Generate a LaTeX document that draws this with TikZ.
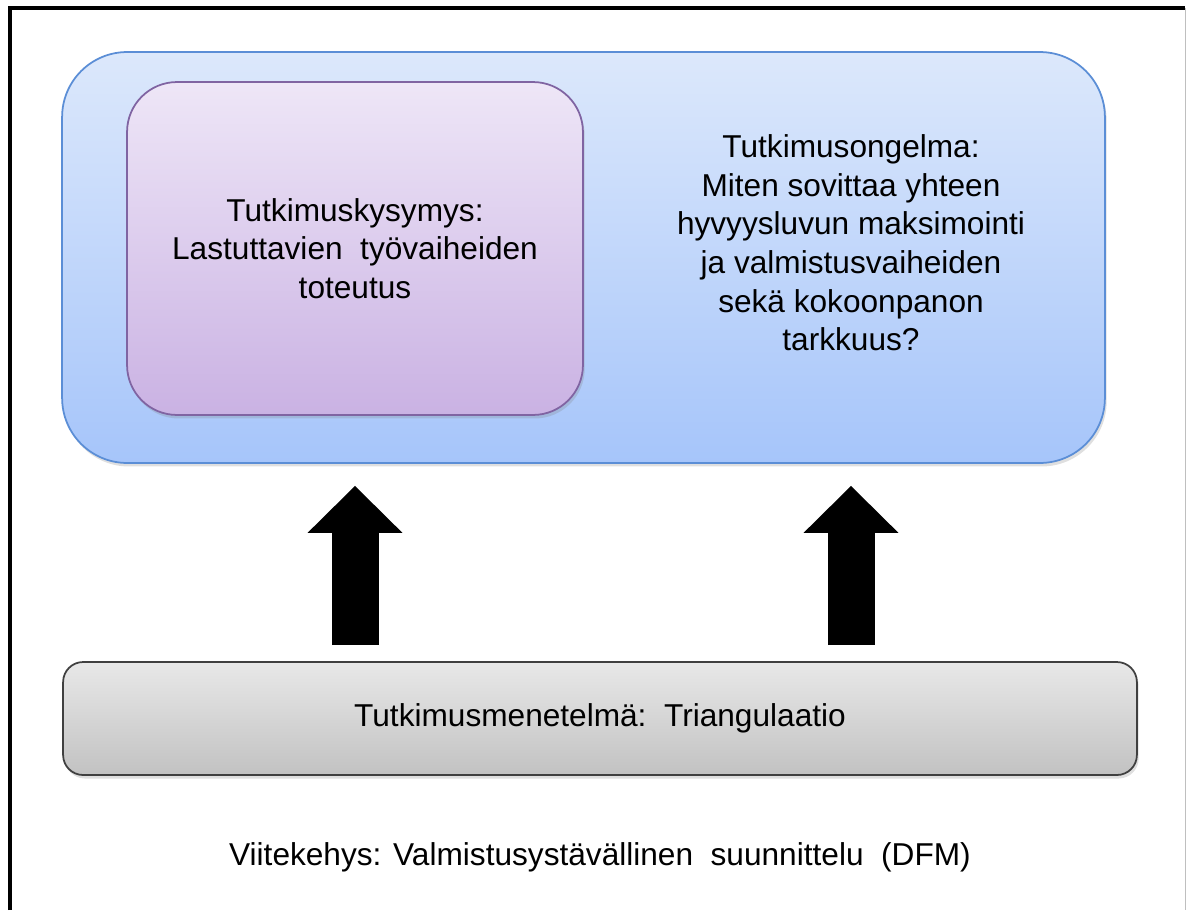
\documentclass[tikz,border=0pt]{standalone}
\usepackage{fontspec}
\setmainfont{Liberation Sans}
\usetikzlibrary{arrows.meta,shadows}
\definecolor{blueTop}{HTML}{DCE8FB}
\definecolor{blueBot}{HTML}{A6C5FA}
\definecolor{blueLine}{HTML}{5B8ED6}
\definecolor{lilaTop}{HTML}{EEE6F7}
\definecolor{lilaBot}{HTML}{CAB2E3}
\definecolor{lilaLine}{HTML}{8064A2}
\definecolor{greyTop}{HTML}{E8E8E8}
\definecolor{greyBot}{HTML}{C2C2C2}
\begin{document}
\begin{tikzpicture}[x=0.02cm,y=-0.02cm]
	\tikzset{box/.style={draw=#1,rectangle,line width=1pt,align=center,font=\fontsize{18}{22}\selectfont,drop shadow={opacity=0.25,shadow xshift=1pt,shadow yshift=-2pt}}}
	\tikzset{big arrow/.style={line width=0.94cm,-{Triangle[length=0.94cm,width=1.84cm]},shorten >=0.44cm,shorten <=0.32cm}}
	\useasboundingbox (0,0) rectangle (1186,910);
	\draw[line width=1.8pt] (10,910) -- (10,8) -- (1185,8);
	\draw[gray!50] (1185,8) -- (1185,910);
	\node [box=blueLine,top color=blueTop,bottom color=blueBot,rounded corners=1.3cm,minimum width=20.86cm,minimum height=8.22cm] (blue) at (583.5,257.5) {};
	\node [box=lilaLine,top color=lilaTop,bottom color=lilaBot,rounded corners=1cm,minimum width=9.12cm,minimum height=6.66cm] (purple) at (355,248.5) {Tutkimuskysymys:\\Lastuttavien\ \ työvaiheiden\\toteutus};
	\node [align=center,font=\fontsize{18}{22}\selectfont] (problem) at (851,243) {Tutkimusongelma:\\Miten\ sovittaa\ yhteen\\hyvyysluvun maksimointi\\ja valmistusvaiheiden\\sekä kokoonpanon\\tarkkuus?};
	\node [box=black!75,top color=greyTop,bottom color=greyBot,rounded corners=0.4cm,minimum width=21.48cm,minimum height=2.26cm] (base) at (600,718.5) {Tutkimusmenetelmä:\ \ Triangulaatio};
	\node [font=\fontsize{18}{22}\selectfont] (frame) at (600,857) {Viitekehys: Valmistusystävällinen\ \ suunnittelu\ \ (DFM)};
	\draw[big arrow] (base.north -| purple.south) -- (blue.south -| purple.south);
	\draw[big arrow] (base.north -| problem.south) -- (blue.south -| problem.south);
\end{tikzpicture}
\end{document}
